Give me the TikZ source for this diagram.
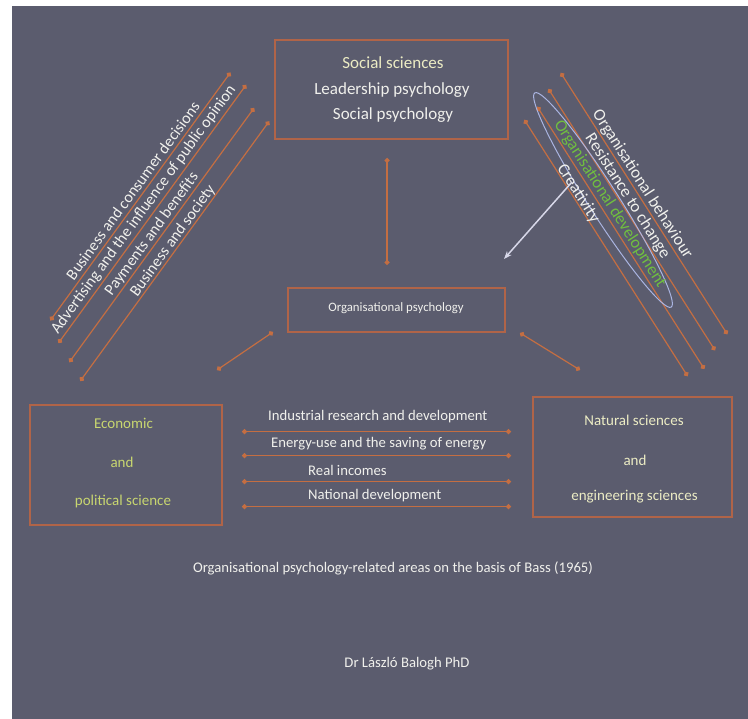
\documentclass[tikz,border=0pt]{standalone}
\usepackage{fontspec}
\setmainfont{Carlito}
\usetikzlibrary{arrows.meta,shapes.geometric}
\definecolor{bg}{RGB}{91,92,110}
\definecolor{lnk}{RGB}{196,110,66}
\definecolor{boxc}{RGB}{176,100,72}
\definecolor{txtw}{RGB}{240,240,236}
\definecolor{txty}{RGB}{236,236,196}
\definecolor{txtg}{RGB}{200,214,112}
\definecolor{devg}{RGB}{112,190,64}
\definecolor{ellc}{RGB}{170,180,225}
\definecolor{warr}{RGB}{215,215,232}
\begin{document}
\begin{tikzpicture}[x=1pt,y=-1pt,
  box/.style={draw=boxc, line width=1.3pt, inner sep=0},
  link/.style={draw=lnk, line width=1.2pt, {Circle[length=5pt]}-{Circle[length=5pt]}},
  lbl/.style={text=txtw, inner sep=0, font=\fontsize{16}{16}\selectfont},
  lblr/.style={text=txtw, inner sep=0, font=\fontsize{17}{17}\selectfont},
  lblh/.style={text=txtw, inner sep=0, font=\fontsize{14.7}{14.7}\selectfont},
  ttl/.style={inner sep=0, font=\fontsize{17}{17}\selectfont},
  sub/.style={inner sep=0, font=\fontsize{15}{15}\selectfont}]
\useasboundingbox (0,0) rectangle (748,719);
\fill[white] (0,0) rectangle (748,719);
\fill[bg] (12,6) rectangle (748,719);

% boxes
\node[box, minimum width=233pt, minimum height=99pt] (top) at (391.5,89.5) {};
\node[box, minimum width=217pt, minimum height=44pt] (mid) at (396.5,310) {};
\node[box, minimum width=192pt, minimum height=120pt] (econ) at (126,465) {};
\node[box, minimum width=199pt, minimum height=120pt] (nat) at (632.5,457) {};

% box texts
\node[ttl, text=txty] (t1) at (393,63) {Social sciences};
\node[ttl, text=txtw] (t2) at (392,90) {Leadership psychology};
\node[ttl, text=txtw] (t3) at (393,115) {Social psychology};
\node[inner sep=0, text=txtw, font=\fontsize{12.8}{12.8}\selectfont] (m1) at (396,308) {Organisational psychology};
\node[sub, text=txtg] (e1) at (123.5,423) {Economic};
\node[sub, text=txtg] (e2) at (122,462) {and};
\node[sub, text=txtg] (e3) at (123,502) {political science};
\node[sub, text=txty] (n1) at (634,420) {Natural sciences};
\node[sub, text=txty] (n2) at (635,460) {and};
\node[sub, text=txty] (n3) at (634.5,497) {engineering sciences};

% vertical and short diagonal connectors
\coordinate (v1) at (387,158); \coordinate (v2) at (387,265);
\draw[link] (v1) -- (v2);
\coordinate (dl1) at (217,370); \coordinate (dl2) at (273,332);
\draw[link] (dl1) -- (dl2);
\coordinate (dr1) at (520,333); \coordinate (dr2) at (580,370);
\draw[link] (dr1) -- (dr2);

% horizontal connectors
\foreach \yy/\nm in {431.7/h1,455.7/h2,481.7/h3,506.7/h4}{
  \coordinate (\nm a) at (242,\yy); \coordinate (\nm b) at (511,\yy);
  \draw[link] (\nm a) -- (\nm b);
}
\node[lblh, anchor=west] (hl1) at (268,417) {Industrial research and development};
\node[lblh, anchor=west] (hl2) at (271,444) {Energy-use and the saving of energy};
\node[lblh, anchor=west] (hl3) at (308,470) {Real incomes};
\node[lblh, anchor=west] (hl4) at (308,496) {National development};

% left diagonal bundle
\coordinate (la1) at (50.4,320.4); \coordinate (lb1) at (230.4,72.6);
\coordinate (la2) at (58.5,343);   \coordinate (lb2) at (246.1,84.9);
\coordinate (la3) at (69.4,362.1); \coordinate (lb3) at (254.1,108);
\coordinate (la4) at (80.3,381);   \coordinate (lb4) at (269.1,121.4);
\foreach \i in {1,2,3,4}{ \draw[link] (la\i) -- (lb\i); }
\node[lbl, rotate=54] (l1) at (132.9,190.6) {Business and consumer decisions};
\node[lbl, rotate=54] (l2) at (143.8,209.6) {Advertising and the influence of public opinion};
\node[lbl, rotate=54] (l3) at (151.9,234.1) {Payments and benefits};
\node[lbl, rotate=54] (l4) at (173,240.7) {Business and society};

% right diagonal bundle
\coordinate (ra1) at (560.8,72.9); \coordinate (rb1) at (727.3,334.2);
\coordinate (ra2) at (548.5,89);   \coordinate (rb2) at (715,350.3);
\coordinate (ra3) at (537.3,106.8); \coordinate (rb3) at (704.3,369);
\coordinate (ra4) at (524.4,119.9); \coordinate (rb4) at (687.6,376.1);
\foreach \i in {1,2,3,4}{ \draw[link] (ra\i) -- (rb\i); }
\node[draw=ellc, line width=1pt, ellipse, minimum width=254pt, minimum height=30pt, rotate=-57.5, inner sep=0] (ell) at (603,200) {};
\node[lblr, rotate=-57.5] (r1) at (642.4,184.4) {Organisational behaviour};
\node[lblr, rotate=-57.5] (r2) at (627.5,196.3) {Resistance to change};
\node[lblr, rotate=-57.5, text=devg] (r3) at (609.9,204) {Organisational development};
\node[lblr, rotate=-57.5] (r4) at (578.2,193.4) {Creativity};
\coordinate (wa) at (572,182); \coordinate (wb) at (504,259);
\draw[warr, line width=1.5pt, -{Stealth[length=8pt,width=6pt]}] (wa) -- (wb);

% captions
\node[lblh] (cap) at (393,568) {Organisational psychology-related areas on the basis of Bass (1965)};
\node[lblh] (auth) at (407,664) {Dr László Balogh PhD};
\end{tikzpicture}
\end{document}
